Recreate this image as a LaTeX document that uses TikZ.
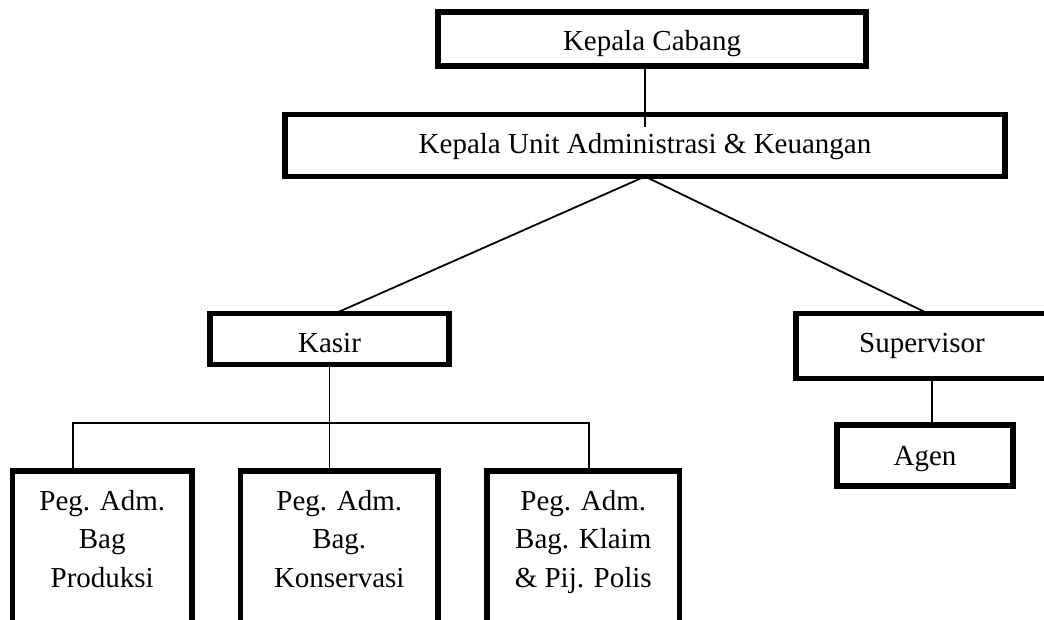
\documentclass[tikz,border=0pt]{standalone}
\usepackage{fontspec}
\setmainfont{Liberation Serif}
\begin{document}
\begin{tikzpicture}[x=1pt,y=-1pt,
  box/.style={draw=black, line width=5.5pt, inner sep=0pt, outer sep=0pt, align=center,
    font=\fontsize{29}{38.5}\selectfont, anchor=north west},
  conn/.style={draw=black, line width=1.8pt}]
\useasboundingbox (0,0) rectangle (1044,619);
\fill[white] (0,0) rectangle (1044,619);
\clip (0,0) rectangle (1044,619);
% boxes
\node[box, minimum width=428pt, text height=38pt, text depth=16pt] (kc) at (438,12) {Kepala Cabang};
\node[box, minimum width=720pt, text height=38.5pt, text depth=23.5pt] (ku) at (285,114.5) {Kepala Unit Administrasi \& Keuangan};
\node[box, minimum width=239pt, text height=38.5pt, text depth=12.5pt] (kasir) at (210,313.5) {Kasir};
\node[box, minimum width=252pt, text height=38.5pt, text depth=26.5pt] (sup) at (796,313.5) {Supervisor};
\node[box, minimum width=176pt, text height=40pt, text depth=21pt] (agen) at (837,425) {Agen};
\node[box, minimum width=179.5pt, text height=39pt, text depth=200pt] (b1) at (12.5,471)
  {\begin{tabular}[t]{@{}c@{}}Peg. Adm.\\Bag\\Produksi\end{tabular}};
\node[box, minimum width=197.5pt, text height=39pt, text depth=200pt] (b2) at (240.5,471)
  {\begin{tabular}[t]{@{}c@{}}Peg. Adm.\\Bag.\\Konservasi\end{tabular}};
\node[box, minimum width=192.5pt, text height=39pt, text depth=200pt] (b3) at (487,471)
  {\begin{tabular}[t]{@{}c@{}}Peg. Adm.\\Bag. Klaim\\\& Pij. Polis\end{tabular}};
% connectors
\draw[conn] (kc.south -| ku.north) -- ([yshift=-12.5pt]ku.north);
\draw[conn] (ku.south) -- ([xshift=5.5pt]kasir.north);
\draw[conn] (ku.south) -- ([xshift=6pt]sup.north);
\draw[conn] (kasir.south) -- (kasir.south |- b2.north);
\coordinate (hl) at (73,423);
\coordinate (hr) at (589,423);
\draw[conn] (b1.north -| hl) -- (hl) -- (hr) -- (b3.north -| hr);
\coordinate (sa) at (932,400);
\draw[conn] (sup.south -| sa) -- (agen.north -| sa);
\end{tikzpicture}
\end{document}
